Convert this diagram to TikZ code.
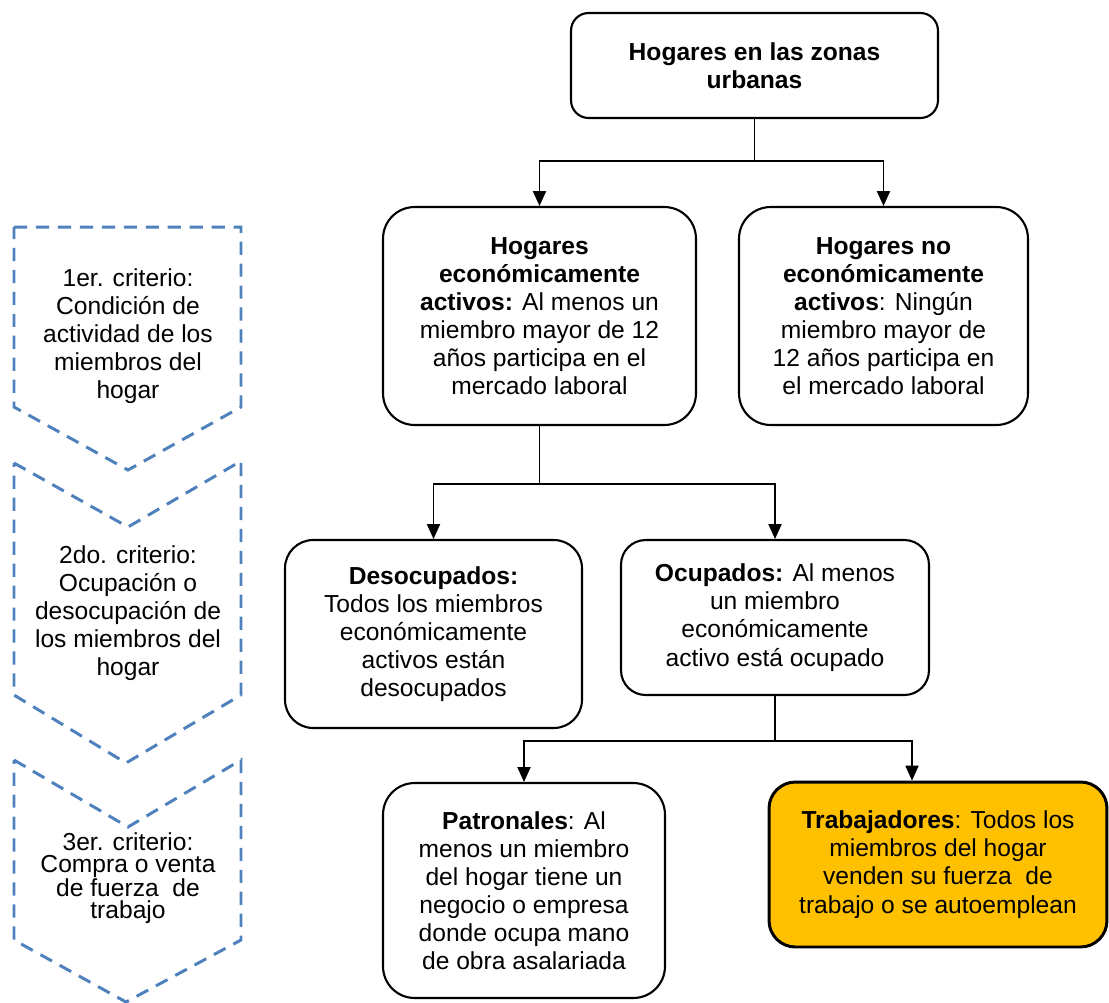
\documentclass[tikz,border=0pt]{standalone}
\usepackage{fontspec}
\setmainfont{Liberation Sans}
\usetikzlibrary{shapes,arrows.meta}
\definecolor{azul}{RGB}{79,129,189}
\definecolor{amarillo}{RGB}{255,192,0}

\begin{document}
\begin{tikzpicture}[x=0.02cm,y=-0.02cm]
\tikzstyle{caja}=[draw,line width=1.2pt,align=center,inner sep=0pt,font=\fontsize{14}{16}\selectfont]
\tikzstyle{criterio}=[align=center,inner sep=0pt,font=\fontsize{14}{16}\selectfont]
\tikzstyle{chevron}=[draw=azul,line width=1.7pt,dash pattern=on 7.5pt off 5pt]
\tikzstyle{flecha}=[line width=0.8pt,-{Triangle[width=7.5pt,length=8.5pt]}]
\useasboundingbox (0,0) rectangle (1109,1002);

% criterios
\draw[chevron] (14,227) -- (241,227) -- (241,407) -- (128,470) -- (14,407) -- cycle;
\draw[chevron] (14,463) -- (128,527) -- (241,461) -- (241,695) -- (126,763) -- (14,695) -- cycle;
\draw[chevron] (14,760) -- (128,827) -- (241,760) -- (241,940) -- (126,1002) -- (14,940) -- cycle;
\node[criterio] (crit1) at (128,336) {1er. criterio:\\Condición de\\actividad de los\\miembros del\\hogar};
\node[criterio] (crit2) at (128,613) {2do. criterio:\\Ocupación o\\desocupación de\\los miembros del\\hogar};
\node[criterio,font=\fontsize{14}{12.4}\selectfont] (crit3) at (128,878) {3er. criterio:\\Compra o venta\\de fuerza~ de\\trabajo};

% cajas
\node[caja,rounded corners=10pt,minimum width=7.34cm,minimum height=2.1cm] (urb) at (754.5,65.5)
  {\textbf{Hogares en las zonas}\\\textbf{urbanas}};
\node[caja,rounded corners=18pt,minimum width=6.26cm,minimum height=4.36cm] (act) at (539.5,316)
  {\textbf{Hogares}\\\textbf{económicamente}\\\textbf{activos:} Al menos un\\miembro mayor de 12\\años participa en el\\mercado laboral};
\node[caja,rounded corners=18pt,minimum width=5.78cm,minimum height=4.36cm] (noact) at (883.5,316)
  {\textbf{Hogares no}\\\textbf{económicamente}\\\textbf{activos}: Ningún\\miembro mayor de\\12 años participa en\\el mercado laboral};
\node[caja,rounded corners=16pt,minimum width=5.94cm,minimum height=3.76cm] (deso) at (433.5,634)
  {\textbf{Desocupados:}\\Todos los miembros\\económicamente\\activos están\\desocupados};
\node[caja,rounded corners=14pt,minimum width=6.16cm,minimum height=3.1cm] (ocu) at (775,617.5)
  {\textbf{Ocupados:} Al menos\\un miembro\\económicamente\\activo está ocupado};
\node[caja,rounded corners=18pt,minimum width=5.64cm,minimum height=4.3cm] (pat) at (524,890.5)
  {\textbf{Patronales}: Al\\menos un miembro\\del hogar tiene un\\negocio o empresa\\donde ocupa mano\\de obra asalariada};
\node[caja,line width=1.7pt,fill=amarillo,rounded corners=15pt,minimum width=6.76cm,minimum height=3.3cm] (trab) at (938,864.5)
  {\textbf{Trabajadores}: Todos los\\miembros del hogar\\venden su fuerza~ de\\trabajo o se autoemplean};

% flechas
\draw[flecha] (urb.south) -- ++(0,42) -| (act.north);
\draw[flecha] (urb.south) -- ++(0,42) -| (noact.north);
\draw[flecha] (act.south) -- ++(0,58) -| (deso.north);
\draw[flecha] (act.south) -- ++(0,58) -| (ocu.north);
\draw[flecha] (ocu.south) -- ++(0,45) -| (pat.north);
\draw[flecha] (ocu.south) -- ++(0,45) -| ([xshift=-0.52cm]trab.north);
\end{tikzpicture}
\end{document}
